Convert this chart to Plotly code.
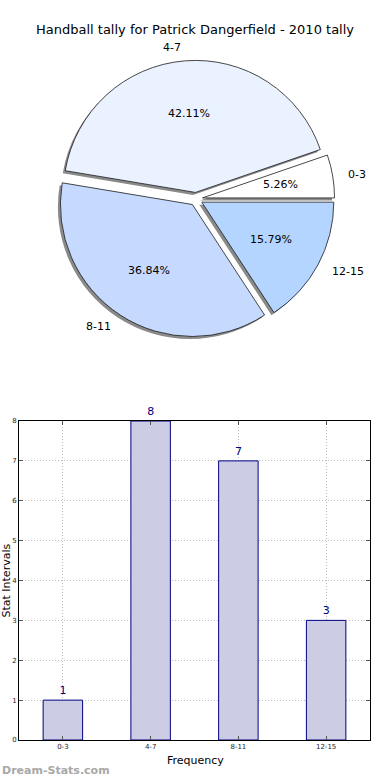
import numpy as np
import plotly.graph_objects as go

# ---------------- data ----------------
categories = ["0-3", "4-7", "8-11", "12-15"]
counts = [1, 8, 7, 3]
pie_colors = ["#ffffff", "#eaf1ff", "#c6d9ff", "#b4d5ff"]
title_text = "Handball tally for Patrick Dangerfield - 2010 tally"
x_title = "Frequency"
y_title = "Stat Intervals"
watermark = "Dream-Stats.com"
y_ticks = list(range(0, 9))

# ---------------- layout constants ----------------
W, H = 390, 780
FONT = "DejaVu Sans"
cx, cy, r, pull = 196, 199, 132, 0.05
half = r * (1 + pull)
pie_dom_x = [(cx - 150) / W, (cx + 150) / W]
pie_dom_y = [1 - (cy + half) / H, 1 - (cy - half) / H]
sh = 2.5
shadow_dom_x = [d - sh / W for d in pie_dom_x]
shadow_dom_y = [d - sh / H for d in pie_dom_y]

vals = np.array(counts, dtype=float)
fracs = vals / vals.sum()
# first slice starts at 3 o'clock, going counter-clockwise
rot = 90 - 360.0 * fracs[0]

fig = go.Figure()

# shadow pie
fig.add_trace(go.Pie(
    labels=categories, values=counts, sort=False, direction="counterclockwise",
    rotation=rot, pull=[pull] * len(counts),
    marker=dict(colors=["#8a8a8a"] * len(counts), line=dict(width=0)),
    textinfo="none", hoverinfo="skip", showlegend=False,
    domain=dict(x=shadow_dom_x, y=shadow_dom_y),
))
# main pie
fig.add_trace(go.Pie(
    labels=categories, values=counts, sort=False, direction="counterclockwise",
    rotation=rot, pull=[pull] * len(counts),
    marker=dict(colors=pie_colors, line=dict(color="#1a1a1a", width=0.8)),
    textinfo="none", showlegend=False,
    domain=dict(x=pie_dom_x, y=pie_dom_y),
))

# pie labels (matplotlib-style positions derived from the values)
ends = np.cumsum(fracs) * 360.0
starts = ends - fracs * 360.0
mids = np.radians((starts + ends) / 2)
annotations = []
for lab, f, m in zip(categories, fracs, mids):
    c, s = np.cos(m), np.sin(m)
    d_lab = (1.1 + pull) * r
    d_pct = (0.6 + pull) * r
    annotations.append(dict(
        x=(cx + d_lab * c) / W, y=1 - (cy - d_lab * s) / H, xref="paper", yref="paper",
        text=lab, showarrow=False, xanchor="left" if c >= 0 else "right", yanchor="middle",
        font=dict(family=FONT, size=11, color="black")))
    annotations.append(dict(
        x=(cx + d_pct * c) / W, y=1 - (cy - d_pct * s) / H, xref="paper", yref="paper",
        text="%1.2f%%" % (f * 100), showarrow=False, xanchor="center", yanchor="middle",
        font=dict(family=FONT, size=11, color="black")))

# bar chart
fig.add_trace(go.Bar(
    x=categories, y=counts, width=0.45,
    marker=dict(color="#ccccE5", line=dict(color="#000080", width=1)),
    text=[str(v) for v in counts], textposition="outside", cliponaxis=False,
    textfont=dict(family=FONT, size=11, color="#000080"),
    showlegend=False, xaxis="x", yaxis="y",
))

axis_common = dict(
    showline=True, linecolor="black", linewidth=1, mirror="ticks",
    ticks="inside", ticklen=4, tickcolor="#555555", tickwidth=1,
    showgrid=True, gridcolor="#bdbdbd", griddash="1px,2px", gridwidth=1,
    zeroline=False, tickfont=dict(family=FONT, size=7, color="#222222"),
)
fig.update_layout(
    width=W, height=H, margin=dict(l=0, r=0, t=0, b=0, pad=0),
    paper_bgcolor="white", plot_bgcolor="white",
    font=dict(family=FONT),
    xaxis=dict(domain=[19 / W, 370 / W], anchor="y", type="category",
               range=[-0.5, len(categories) - 0.5], automargin=False, **axis_common),
    yaxis=dict(domain=[1 - 740 / H, 1 - 421 / H], anchor="x", range=[0, 8],
               tickvals=y_ticks, automargin=False, **axis_common),
)

annotations += [
    dict(x=195 / W, y=1 - 30 / H, xref="paper", yref="paper", text=title_text,
         showarrow=False, xanchor="center", yanchor="middle",
         font=dict(family=FONT, size=13, color="black")),
    dict(x=195 / W, y=1 - 760 / H, xref="paper", yref="paper", text=x_title,
         showarrow=False, xanchor="center", yanchor="middle",
         font=dict(family=FONT, size=11, color="black")),
    dict(x=-3 / W, y=1 - 581 / H, xref="paper", yref="paper", text=y_title,
         showarrow=False, xanchor="left", yanchor="middle", textangle=-90,
         font=dict(family=FONT, size=11, color="black")),
    dict(x=0, y=1 - 770 / H, xref="paper", yref="paper", text="<b>" + watermark + "</b>",
         showarrow=False, xanchor="left", yanchor="middle",
         font=dict(family=FONT, size=11, color="#a8a8a8")),
]
fig.update_layout(annotations=annotations)

fig.write_html("out.html", config={"displayModeBar": False},
               post_script="document.body.style.margin='0';document.body.style.padding='0';")
